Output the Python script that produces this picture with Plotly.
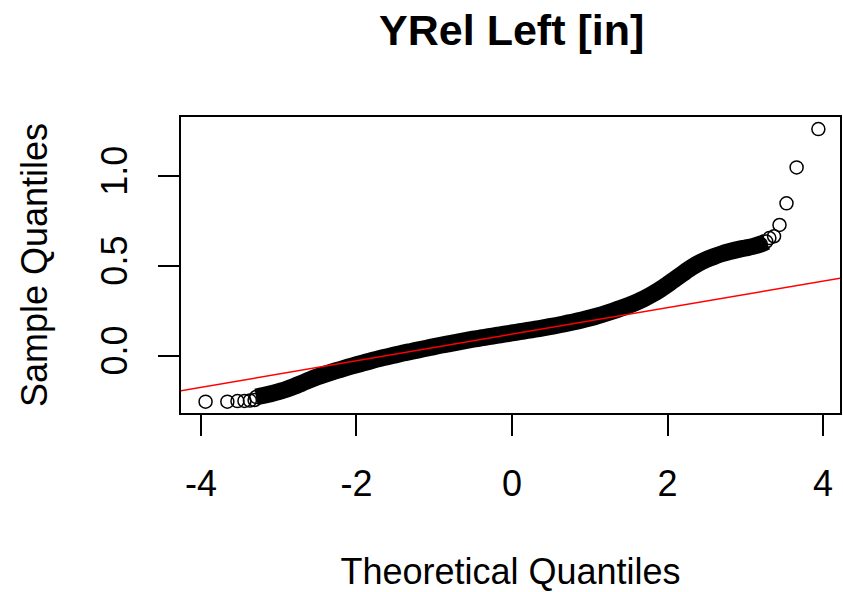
import plotly.graph_objects as go

# Normal Q-Q plot of YRel Left [in]

# Extreme observations (drawn as individual open circles)
tail_theoretical = [-3.94, -3.66, -3.53, -3.44, -3.37, -3.31,
                    3.31, 3.37, 3.44, 3.53, 3.66, 3.94]
tail_sample = [-0.254, -0.254, -0.251, -0.250, -0.248, -0.245,
               0.655, 0.665, 0.728, 0.848, 1.048, 1.261]

# Dense body of the distribution
body_theoretical = [
    -3.29, -3.2, -3.1, -3.0, -2.9, -2.8, -2.7, -2.6, -2.5, -2.4, -2.3, -2.2,
    -2.1, -2.0, -1.9, -1.8, -1.7, -1.6, -1.5, -1.4, -1.3, -1.2, -1.1, -1.0,
    -0.9, -0.8, -0.7, -0.6, -0.5, -0.4, -0.3, -0.2, -0.1, 0.0, 0.1, 0.2,
    0.3, 0.4, 0.5, 0.6, 0.7, 0.8, 0.9, 1.0, 1.1, 1.2, 1.3, 1.4,
    1.5, 1.6, 1.7, 1.8, 1.9, 2.0, 2.1, 2.2, 2.3, 2.4, 2.5, 2.6,
    2.7, 2.8, 2.9, 3.0, 3.1, 3.2, 3.27,
]
body_sample = [
    -0.228, -0.220, -0.210, -0.198, -0.185, -0.169, -0.151, -0.133, -0.116, -0.101, -0.087, -0.074,
    -0.061, -0.049, -0.037, -0.025, -0.014, -0.004, 0.006, 0.016, 0.025, 0.034, 0.043, 0.052,
    0.061, 0.069, 0.077, 0.085, 0.093, 0.100, 0.107, 0.114, 0.121, 0.128, 0.135, 0.142,
    0.149, 0.156, 0.164, 0.172, 0.181, 0.190, 0.200, 0.211, 0.223, 0.236, 0.250, 0.265,
    0.281, 0.299, 0.319, 0.342, 0.368, 0.397, 0.428, 0.459, 0.489, 0.515, 0.536, 0.553,
    0.568, 0.580, 0.591, 0.600, 0.609, 0.622, 0.636,
]

# Reference line through the quartiles
qqline_intercept = 0.121
qqline_slope = 0.0738

x_ticks = [-4, -2, 0, 2, 4]
y_ticks = [0.0, 0.5, 1.0]
y_tick_labels = ["0.0", "0.5", "1.0"]

FONT = "Liberation Sans, Arial, sans-serif"

fig = go.Figure()

# thousands of overlapping circles merge into a solid band
fig.add_trace(go.Scatter(
    x=body_theoretical, y=body_sample, mode="lines+markers",
    line=dict(color="black", width=17, simplify=False, shape="spline", smoothing=0.8),
    marker=dict(symbol="circle-open", size=13, color="black", line=dict(width=1.5)),
    hoverinfo="skip", showlegend=False,
))
fig.add_trace(go.Scatter(
    x=tail_theoretical, y=tail_sample, mode="markers",
    marker=dict(symbol="circle-open", size=13, color="black", line=dict(width=1.5)),
    showlegend=False,
))

line_x = [-5, 5]
line_y = [qqline_intercept + qqline_slope * v for v in line_x]
fig.add_trace(go.Scatter(
    x=line_x, y=line_y, mode="lines",
    line=dict(color="red", width=1.5), showlegend=False, hoverinfo="skip",
))

axis_common = dict(
    showgrid=False, zeroline=False, showline=True, mirror=True,
    linecolor="black", linewidth=1.5, ticks="outside", ticklen=21,
    tickwidth=1.5, tickcolor="black",
    tickfont=dict(family=FONT, size=36, color="black"),
)

fig.update_layout(
    width=843, height=592,
    margin=dict(l=181, r=1, t=117, b=179),
    paper_bgcolor="white", plot_bgcolor="white",
    title=dict(
        text="<b>YRel Left [in]</b>", x=0.607, xanchor="center",
        y=1 - 30 / 592, yanchor="middle", yref="container",
        font=dict(family=FONT, size=43, color="black"),
    ),
    xaxis=dict(
        range=[-4.256, 4.218], tickvals=x_ticks,
        ticktext=[str(t) for t in x_ticks],
        title=dict(text="Theoretical Quantiles", standoff=57,
                   font=dict(family=FONT, size=36, color="black")),
        ticklabelstandoff=17,
        **axis_common,
    ),
    yaxis=dict(
        range=[-0.317, 1.328], tickvals=y_ticks, ticktext=y_tick_labels,
        tickangle=-90,
        title=dict(text="Sample Quantiles", standoff=35,
                   font=dict(family=FONT, size=36, color="black")),
        ticklabelstandoff=17,
        **axis_common,
    ),
)

fig.write_html("out.html")
